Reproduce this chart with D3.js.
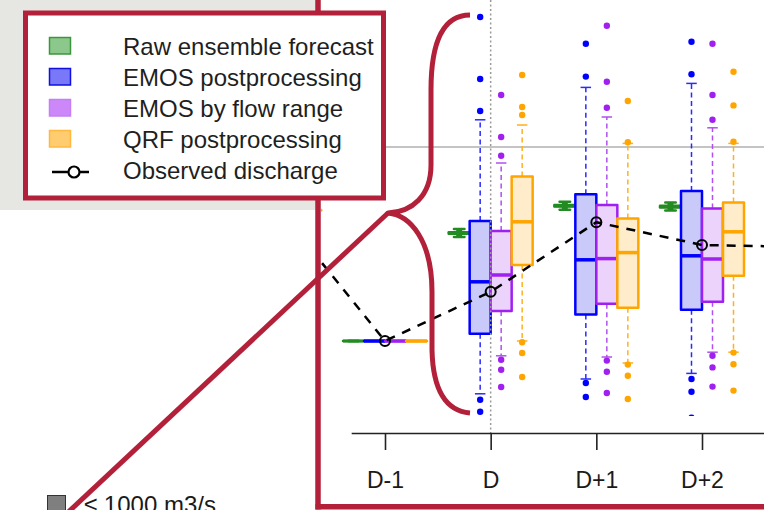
<!DOCTYPE html>
<html>
<head>
<meta charset="utf-8">
<script src="https://cdn.jsdelivr.net/npm/d3@7"></script>
<style>
  html, body { margin: 0; padding: 0; background: #ffffff; }
  svg { display: block; font-family: "Liberation Sans", Arial, sans-serif; }
</style>
</head>
<body>
<svg id="chart" width="764" height="510"></svg>
<script>
// Forecast days (index 0 = D-2 ... 5 = D+3); only D-1..D+2 carry axis labels
const dayIndex = [-2, -1, 0, 1, 2, 3];
const tickDays = [-1, 0, 1, 2];
const tickLabels = ["D-1", "D", "D+1", "D+2"];

// Observed discharge (m3/s) per day
const observed = [842, 515, 638, 812, 755, 750];

// Five-number summaries [lower whisker, Q1, median, Q3, upper whisker] per day
const rawStats = [
  [842, 842, 842, 842, 842],
  [515, 515, 515, 515, 515],
  [775, 783, 785, 787, 795],
  [843, 851, 853, 855, 863],
  [841, 849, 851, 853, 861],
  null
];
const emosStats = [
  [842, 842, 842, 842, 842],
  [515, 515, 515, 515, 515],
  [383, 533, 663, 815, 1068],
  [420, 581, 718, 882, 1149],
  [434, 593, 728, 890, 1159],
  null
];
const emosFlowStats = [
  [842, 842, 842, 842, 842],
  [515, 515, 515, 515, 515],
  [478, 590, 680, 790, 960],
  [475, 608, 721, 855, 1075],
  [487, 613, 720, 846, 1048],
  null
];
const qrfStats = [
  [842, 842, 842, 842, 842],
  [515, 515, 515, 515, 515],
  [515, 705, 813, 926, 1055],
  [460, 598, 736, 821, 1009],
  [487, 678, 788, 861, 1009],
  null
];

// Outlying members per day
const rawOutliers = [[], [], [], [], [], []];
const emosOutliers = [[], [], [1325, 1170, 1090, 368, 338], [1258, 1176, 410, 375], [1263, 1182, 420, 388, 323], []];
const emosFlowOutliers = [[], [], [1130, 1025, 978, 468, 443, 400], [1303, 1163, 1098, 466, 438, 385], [1258, 1130, 1068, 478, 449, 401], []];
const qrfOutliers = [[], [], [1180, 1100, 1080, 512, 485, 425], [1115, 1012, 456, 428, 370], [1188, 1104, 1013, 486, 457, 391], []];

const seriesNames = ["Raw ensemble forecast", "EMOS postprocessing", "EMOS by flow range", "QRF postprocessing"];
const threshold = 1000;
const zoomLabel = "\u2264 1000 m3/s";

const series = [
  { name: seriesNames[0], stats: rawStats, outliers: rawOutliers, stroke: "#228b22", fill: "#2f8f2f", whisker: "#228b22", key: "#8cc88c", keyStroke: "#3c963c" },
  { name: seriesNames[1], stats: emosStats, outliers: emosOutliers, stroke: "#0000ff", fill: "#c9c9fa", whisker: "#2a2aff", key: "#7878f8", keyStroke: "#1010e0" },
  { name: seriesNames[2], stats: emosFlowStats, outliers: emosFlowOutliers, stroke: "#a020f0", fill: "#ebd3fb", whisker: "#b050f0", key: "#cc88f8", keyStroke: "#c480f2" },
  { name: seriesNames[3], stats: qrfStats, outliers: qrfOutliers, stroke: "#ffa500", fill: "#ffecca", whisker: "#ffb020", key: "#ffcc70", keyStroke: "#ffb840" }
];

const maroon = "#b3203a";
const svg = d3.select("#chart");
const W = 764, H = 510;

// Scales
const x = d3.scaleLinear().domain([-1, 2]).range([385, 702]);
const y = d3.scaleLinear().domain([250, 1400]).range([447, -13]);
const slot = d3.scaleBand().domain(d3.range(4)).range([-42, 42]);

// Backgrounds
svg.append("rect").attr("width", W).attr("height", H).attr("fill", "#ffffff");
svg.append("rect").attr("x", 0).attr("y", 0).attr("width", 318).attr("height", 210).attr("fill", "#e6e6e2");

// Plot clip
const defs = svg.append("defs");
defs.append("clipPath").attr("id", "plotClip")
  .append("rect").attr("x", 321).attr("y", 0).attr("width", W - 321).attr("height", 416);

const plot = svg.append("g").attr("clip-path", "url(#plotClip)");

// Threshold reference line
plot.append("line")
  .attr("x1", 321).attr("x2", W)
  .attr("y1", y(threshold)).attr("y2", y(threshold))
  .attr("stroke", "#8a8a8a").attr("stroke-width", 1.2);

// Forecast issue day marker
svg.append("line")
  .attr("x1", x(0)).attr("x2", x(0))
  .attr("y1", 0).attr("y2", y(250) - 14)
  .attr("stroke", "#9a9a9a").attr("stroke-width", 1.5)
  .attr("stroke-dasharray", "2,2.5");

// Boxplots
series.forEach((s, si) => {
  const g = plot.append("g");
  const bw = slot.bandwidth();
  const isRaw = si === 0;
  dayIndex.forEach((d, di) => {
    const st = s.stats[di];
    if (!st) return;
    const [lo, q1, med, q3, hi] = st;
    const x0 = x(d) + slot(si);
    const cx = x0 + bw / 2;
    // whiskers
    [[q3, hi], [q1, lo]].forEach(([a, b]) => {
      g.append("line")
        .attr("x1", cx).attr("x2", cx)
        .attr("y1", y(a)).attr("y2", y(b))
        .attr("stroke", s.whisker).attr("stroke-width", isRaw ? 6 : 1.5)
        .attr("stroke-dasharray", isRaw ? null : "5,3.5");
    });
    // staples
    [lo, hi].forEach(v => {
      g.append("line")
        .attr("x1", cx - bw / 4).attr("x2", cx + bw / 4)
        .attr("y1", y(v)).attr("y2", y(v))
        .attr("stroke", s.whisker).attr("stroke-width", isRaw ? 2.5 : 1.5)
        .attr("stroke-linecap", isRaw ? "round" : "butt");
    });
    // box
    g.append("path")
      .attr("d", `M${x0},${y(q3)}H${x0 + bw}V${y(q1)}H${x0}Z`)
      .attr("fill", s.fill)
      .attr("stroke", s.stroke).attr("stroke-width", 2.5)
      .attr("stroke-linejoin", "round");
    // median
    g.append("line")
      .attr("x1", x0).attr("x2", x0 + bw)
      .attr("y1", y(med)).attr("y2", y(med))
      .attr("stroke", s.stroke).attr("stroke-width", isRaw ? 3 : 3.5);
    // outliers
    s.outliers[di].forEach(v => {
      g.append("circle")
        .attr("cx", cx).attr("cy", y(v)).attr("r", 3.2)
        .attr("fill", s.stroke);
    });
  });
});

// Observed discharge
const obsLine = d3.line().x((v, i) => x(dayIndex[i])).y(v => y(v));
const obsG = svg.append("g").attr("clip-path", "url(#plotClip)");
obsG.append("path")
  .attr("d", obsLine(observed))
  .attr("fill", "none").attr("stroke", "#000").attr("stroke-width", 2.5)
  .attr("stroke-dasharray", "9,8");
obsG.selectAll("circle.obs").data(observed).join("circle")
  .attr("class", "obs")
  .attr("cx", (v, i) => x(dayIndex[i])).attr("cy", v => y(v))
  .attr("r", 5).attr("fill", "none").attr("stroke", "#000").attr("stroke-width", 2);

// X axis
const axisScale = d3.scaleLinear().domain([-1.32, 3.8]).range([x(-1.32), x(3.8)]);
const axisG = svg.append("g")
  .attr("transform", `translate(0,${y(250) - 14})`)
  .call(d3.axisBottom(axisScale)
    .tickValues(tickDays)
    .tickFormat(d => tickLabels[tickDays.indexOf(d)])
    .tickSize(17).tickSizeOuter(0).tickPadding(22));
axisG.select(".domain").attr("stroke", "#222").attr("stroke-width", 1.6);
axisG.selectAll(".tick line").attr("stroke", "#222").attr("stroke-width", 1.6);
axisG.selectAll(".tick text")
  .attr("font-family", "'Liberation Sans', Arial, sans-serif")
  .attr("font-size", 23).attr("fill", "#1a1a1a");

// Frame around the zoomed panel
svg.append("line").attr("x1", 318).attr("x2", 318).attr("y1", -5).attr("y2", 509.5)
  .attr("stroke", maroon).attr("stroke-width", 5.5);
svg.append("line").attr("x1", 315.5).attr("x2", W + 5).attr("y1", 506.8).attr("y2", 506.8)
  .attr("stroke", maroon).attr("stroke-width", 5.5);

// Brace grouping the D column forecasts
const brace = d3.path();
brace.moveTo(470, 15);
brace.bezierCurveTo(446, 15, 431, 36, 431, 90);
brace.lineTo(431, 165);
brace.bezierCurveTo(431, 196, 412, 212, 388, 213);
brace.bezierCurveTo(410, 215, 432, 240, 432, 292);
brace.lineTo(432, 350);
brace.bezierCurveTo(433, 392, 447, 411, 470, 413);
svg.append("path").attr("d", brace.toString())
  .attr("fill", "none").attr("stroke", maroon).attr("stroke-width", 5)
  .attr("stroke-linejoin", "round");

// Zoom connector towards the overview
svg.append("line").attr("x1", 388).attr("y1", 213).attr("x2", 63).attr("y2", 517)
  .attr("stroke", maroon).attr("stroke-width", 5);

// Overview key fragment
svg.append("rect").attr("x", 47.5).attr("y", 495.5).attr("width", 18).attr("height", 18)
  .attr("fill", "#7f7f7f").attr("stroke", "#333").attr("stroke-width", 1);
svg.append("text").attr("x", 84).attr("y", 513)
  .attr("font-size", 24).attr("fill", "#1a1a1a").text(zoomLabel);

// Legend
const leg = svg.append("g");
leg.append("rect").attr("x", 25.5).attr("y", 13).attr("width", 358).attr("height", 185)
  .attr("fill", "#ffffff").attr("stroke", maroon).attr("stroke-width", 5);
const rowY = d3.scaleLinear().domain([0, 4]).range([55, 179]);
series.forEach((s, i) => {
  leg.append("rect")
    .attr("x", 49.5).attr("y", rowY(i) - 17.5).attr("width", 21).attr("height", 16.5)
    .attr("fill", s.key).attr("stroke", s.keyStroke).attr("stroke-width", 1.5);
  leg.append("text").attr("x", 123).attr("y", rowY(i))
    .attr("font-size", 24).attr("fill", "#1f1f1f").text(s.name);
});
leg.append("line").attr("x1", 52).attr("x2", 89).attr("y1", rowY(4) - 7).attr("y2", rowY(4) - 7)
  .attr("stroke", "#000").attr("stroke-width", 2.5);
leg.append("circle").attr("cx", 74).attr("cy", rowY(4) - 7).attr("r", 5.5)
  .attr("fill", "#fff").attr("stroke", "#000").attr("stroke-width", 2.2);
leg.append("text").attr("x", 123).attr("y", rowY(4))
  .attr("font-size", 24).attr("fill", "#1f1f1f").text("Observed discharge");
</script>
</body>
</html>
